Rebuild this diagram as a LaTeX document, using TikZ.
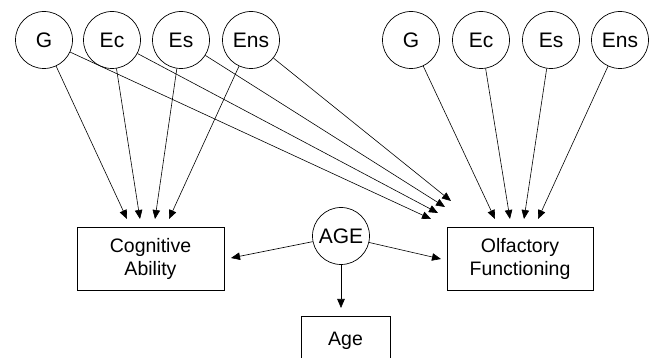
\documentclass[tikz,border=0pt]{standalone}
\usepackage{fontspec}
\setmainfont{Liberation Sans}
\usetikzlibrary{arrows.meta}
\begin{document}
\begin{tikzpicture}[x=1pt,y=-1pt,
  lat/.style={circle,draw,line width=0.7pt,minimum size=57pt,inner sep=0pt,font=\fontsize{21}{25}\selectfont},
  obs/.style={rectangle,draw,line width=0.7pt,align=center,inner sep=0pt,font=\fontsize{19.5}{23}\selectfont},
  arr/.style={line width=0.6pt,-{Triangle[length=9pt,width=7.5pt]}}]
\useasboundingbox (0,0) rectangle (651,358);
% left latent factors
\node[lat] (LG)   at (44,40)  {G};
\node[lat] (LEc)  at (112,40) {Ec};
\node[lat] (LEs)  at (181,40) {Es};
\node[lat] (LEns) at (251,40) {Ens};
% right latent factors
\node[lat] (RG)   at (411,40) {G};
\node[lat] (REc)  at (481,40) {Ec};
\node[lat] (REs)  at (551,40) {Es};
\node[lat] (REns) at (620,40) {Ens};
% AGE
\node[lat] (AGE) at (341,236) {AGE};
% observed
\node[obs,minimum width=147pt,minimum height=63pt] (cog) at (150.5,258.5) {Cognitive\\Ability};
\node[obs,minimum width=146pt,minimum height=63pt] (olf) at (520,258.5) {Olfactory\\Functioning};
\node[obs,minimum width=89pt,minimum height=50pt] (age) at (345.5,341) {Age};
% arrow end points
\coordinate (c1) at (127,219);
\coordinate (c2) at (140,219);
\coordinate (c3) at (155,219);
\coordinate (c4) at (169,219);
\coordinate (o1) at (495,219);
\coordinate (o2) at (510,219);
\coordinate (o3) at (524,219);
\coordinate (o4) at (538,219);
\coordinate (p1) at (431,219);
\coordinate (p2) at (438,213);
\coordinate (p3) at (445,207);
\coordinate (p4) at (451,201);
\coordinate (a1) at (231,258);
\coordinate (a2) at (441,259);
\coordinate (a3) at (341,308);
% connectors
\draw[arr] (LG) -- (c1);
\draw[arr] (LEc) -- (c2);
\draw[arr] (LEs) -- (c3);
\draw[arr] (LEns) -- (c4);
\draw[arr] (LG) -- (p1);
\draw[arr] (LEc) -- (p2);
\draw[arr] (LEs) -- (p3);
\draw[arr] (LEns) -- (p4);
\draw[arr] (RG) -- (o1);
\draw[arr] (REc) -- (o2);
\draw[arr] (REs) -- (o3);
\draw[arr] (REns) -- (o4);
\draw[arr] (AGE) -- (a1);
\draw[arr] (AGE) -- (a2);
\draw[arr] (AGE) -- (a3);
\end{tikzpicture}
\end{document}
